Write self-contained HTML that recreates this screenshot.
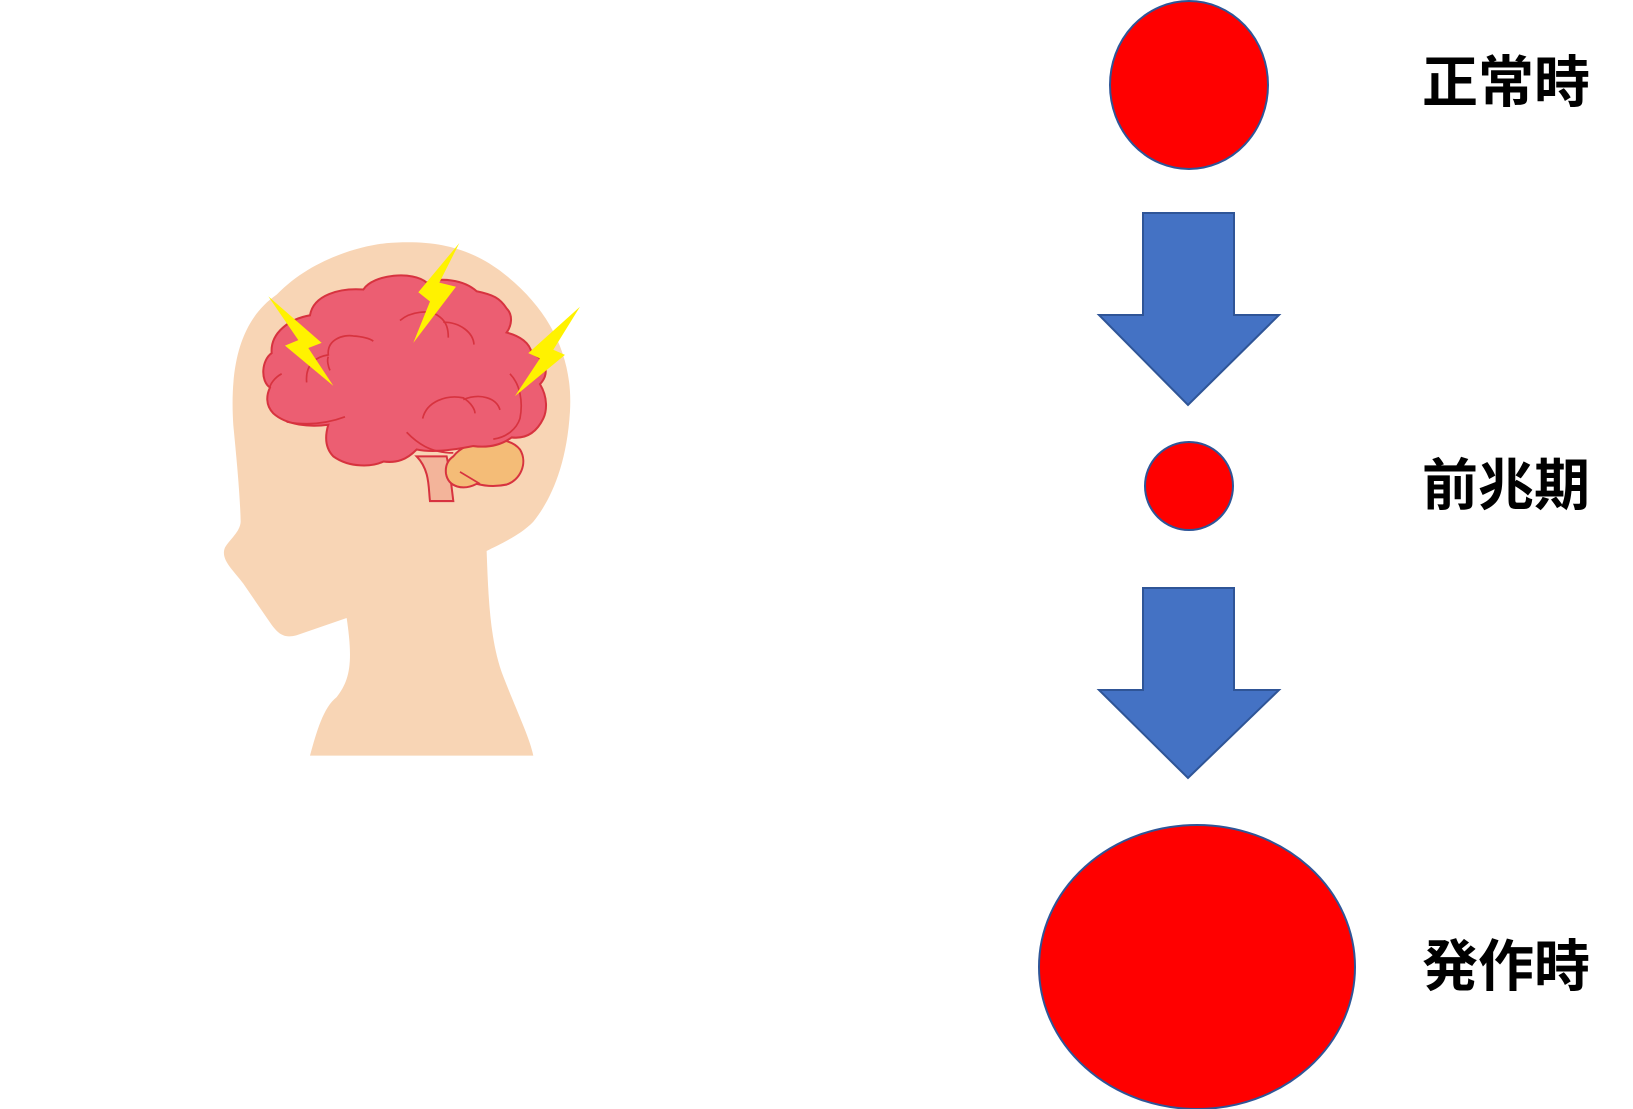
<!DOCTYPE html>
<html><head><meta charset="utf-8"><style>
html,body{margin:0;padding:0;background:#fff;}
body{width:1633px;height:1109px;position:relative;overflow:hidden;}
.t{position:absolute;left:1422px;font:bold 56px "Liberation Sans","Noto Sans CJK JP",sans-serif;line-height:56px;color:#000;white-space:nowrap;}
</style></head><body>
<svg width="1633" height="1109" style="position:absolute;left:0;top:0">
<g transform="translate(200,219) scale(0.3333,0.344)">
<path d="M330,1560 C350,1490 370,1420 410,1390 C450,1340 460,1290 440,1160 L290,1210 C250,1220 235,1205 215,1180 L130,1060 C100,1020 60,990 75,955 C90,930 120,910 122,880 C120,800 110,700 100,600 C90,450 110,300 230,220 C330,120 470,80 560,70 C700,60 800,80 900,150 C1050,260 1120,400 1110,560 C1100,720 1050,820 1000,880 C960,920 900,945 860,965 C865,1100 870,1230 910,1330 C950,1430 990,1510 1000,1560 Z" fill="#f8d5b5"/>
<path d="M690,820 L760,820 L750,740 L740,690 L650,690 C690,730 685,780 690,820 Z" fill="#f3b49a" stroke="#d7333f" stroke-width="6"/>
<path d="M760,690 C800,640 920,620 960,670 C985,710 960,760 920,772 C880,780 850,775 830,770 C790,790 745,780 738,740 C735,715 745,700 760,690 Z" fill="#f4bc77" stroke="#d7333f" stroke-width="6"/>
<path d="M330,280 C340,220 420,200 490,205 C520,160 640,150 680,185 C720,170 790,175 830,210 C880,220 900,230 920,260 C940,280 935,310 920,330 C960,340 990,360 995,390 C1040,410 1050,450 1020,480 C1045,520 1040,560 1030,580 C1010,620 980,640 935,635 C900,660 860,665 820,660 C770,670 700,680 650,670 C620,700 590,710 550,705 C520,720 450,725 400,690 C375,665 375,630 385,598 C330,605 260,600 220,565 C195,540 200,510 210,490 C180,470 185,410 215,390 C210,330 270,290 330,280 Z" fill="#ec5e72" stroke="#d7333f" stroke-width="6"/>
<g fill="none" stroke="#d7333f" stroke-width="5">
<path d="M320,475 C315,420 350,400 385,395 C380,350 430,335 460,340 C490,342 510,348 520,355"/>
<path d="M600,295 C630,270 690,260 720,285 C740,300 745,320 745,345"/>
<path d="M730,300 C780,300 820,330 822,365"/>
<path d="M668,580 C680,530 740,510 790,520 C815,535 825,555 825,565"/>
<path d="M790,525 C840,505 890,520 900,555"/>
<path d="M620,620 C650,650 690,680 760,680"/>
<path d="M780,735 L840,770"/>
<path d="M435,575 C380,595 320,600 260,590"/>
<path d="M245,450 C225,460 210,480 210,490"/>
<path d="M930,450 C960,480 970,530 960,580 C950,610 920,635 880,640"/>
<path d="M385,400 C380,410 385,430 390,440"/>
</g>
<g fill="#fff200">
<polygon points="205,225 365,360 325,375 400,485 255,368 295,352"/>
<polygon points="778,70 718,185 768,197 640,360 690,240 655,213"/>
<polygon points="1140,255 1060,380 1095,395 945,515 1020,405 985,390"/>
</g>
</g>
<g stroke="#2f5597" stroke-width="2">
<ellipse cx="1189" cy="85" rx="79" ry="84" fill="#ff0000"/>
<polygon points="1143,213 1234,213 1234,315 1279,315 1188,405 1099,315 1143,315" fill="#4472c4"/>
<ellipse cx="1189" cy="486" rx="44" ry="44" fill="#ff0000"/>
<polygon points="1143,588 1234,588 1234,690 1279,690 1188,778 1099,690 1143,690" fill="#4472c4"/>
<ellipse cx="1197" cy="967" rx="158" ry="142" fill="#ff0000"/>
</g>
</svg>
<div class="t" style="top:55px">正常時</div>
<div class="t" style="top:458px">前兆期</div>
<div class="t" style="top:939px">発作時</div>
</body></html>
